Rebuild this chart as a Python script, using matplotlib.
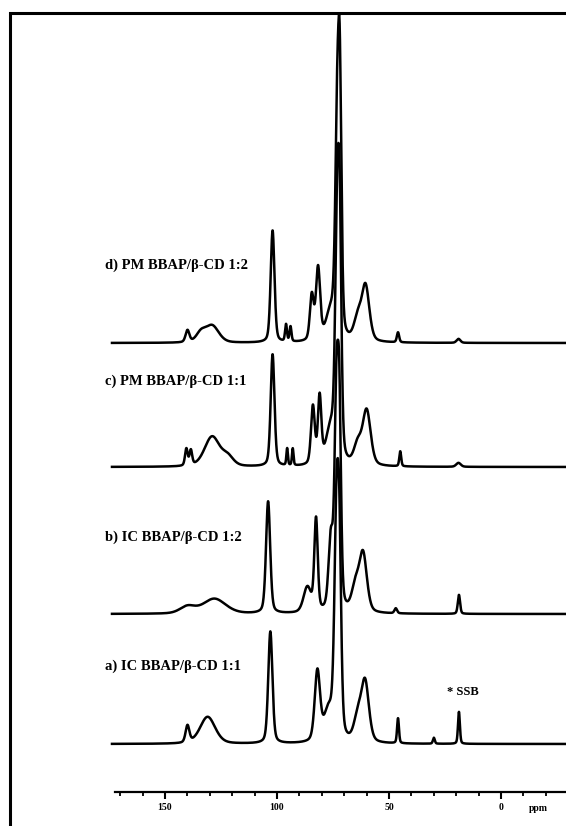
import numpy as np
import matplotlib
matplotlib.use('Agg')
from matplotlib import pyplot as plt
from matplotlib.patches import Rectangle
from matplotlib.transforms import ScaledTranslation

# spectra: peak position (ppm), height, half width (ppm), one list per trace
labels = ['d) PM BBAP/β-CD 1:2', 'c) PM BBAP/β-CD 1:1',
          'b) IC BBAP/β-CD 1:2', 'a) IC BBAP/β-CD 1:1']
offsets = [343, 467, 614, 744]

d_pos = [140.0, 134.0, 129.0, 102.0, 96.0, 94.0, 84.5, 81.7, 76.0, 73.2,
         72.0, 64.0, 60.5, 46.0, 19.0]
d_hgt = [12, 9, 17, 112, 17, 15, 45, 72, 28, 185, 235, 22, 55, 10, 4]
d_wid = [1.0, 2.5, 3.5, 1.0, 0.5, 0.5, 1.0, 1.1, 2.5, 1.0, 0.9, 2.0, 2.0,
         0.6, 1.0]

c_pos = [140.5, 138.5, 129.0, 122.0, 102.0, 95.5, 93.0, 84.0, 81.0, 76.0,
         73.2, 72.0, 64.0, 60.0, 45.0, 19.0]
c_hgt = [17, 15, 30, 9, 112, 17, 17, 58, 66, 35, 220, 200, 20, 55, 15, 4]
c_wid = [0.7, 0.7, 4.0, 3.0, 1.0, 0.4, 0.4, 1.0, 0.9, 2.5, 1.0, 0.9, 2.0,
         2.1, 0.5, 1.2]

b_pos = [140.0, 128.0, 104.0, 86.5, 82.6, 76.0, 73.5, 72.2, 65.0, 61.6,
         47.0, 18.8]
b_hgt = [7, 15, 112, 25, 92, 70, 200, 180, 25, 58, 5, 19]
b_wid = [4.0, 6.0, 1.1, 2.0, 0.9, 1.2, 1.0, 0.9, 2.0, 2.0, 0.7, 0.6]

a_pos = [140.0, 131.0, 103.0, 82.0, 77.0, 73.5, 72.2, 64.0, 60.7, 46.0,
         30.0, 18.8]
a_hgt = [17, 27, 112, 70, 30, 200, 170, 24, 60, 25, 6, 32]
a_wid = [1.0, 4.0, 1.1, 1.4, 2.5, 1.1, 1.0, 2.0, 2.0, 0.5, 0.5, 0.5]

peaks = [(d_pos, d_hgt, d_wid), (c_pos, c_hgt, c_wid),
         (b_pos, b_hgt, b_wid), (a_pos, a_hgt, a_wid)]

major_ticks = [150, 100, 50, 0]
minor_ticks = [170, 160, 140, 130, 120, 110, 90, 80, 70, 60, 40, 30, 20,
               10, -10, -20]


def spectrum(ppm, pos, hgt, wid, eta=0.35):
    # pseudo-Voigt line shapes, w is the half width at half maximum
    y = np.zeros_like(ppm)
    for p, h, w in zip(pos, hgt, wid):
        x = (ppm - p) / w
        y += h * (eta / (1 + x ** 2) + (1 - eta) * np.exp(-np.log(2) * x ** 2))
    return y


def main():
    fig = plt.figure(figsize=(5.66, 8.26), dpi=100)
    ax = fig.add_axes([0, 0, 1, 1])
    ax.set_xlim(223.7, -29.0)
    ax.set_ylim(826, 0)
    ax.axis('off')

    ppm = np.linspace(173.7, -29.0, 4000)
    for (pos, hgt, wid), off in zip(peaks, offsets):
        ax.plot(ppm, off - spectrum(ppm, pos, hgt, wid), color='black',
                lw=1.8, solid_joinstyle='round')

    label_y = [265, 381, 537, 666]
    for lab, ly in zip(labels, label_y):
        ax.text(176.8, ly, lab, fontsize=10.5, fontweight='bold',
                family='Liberation Serif', va='center', ha='left')
    ax.text(24.0, 692, '* SSB', fontsize=9, fontweight='bold',
            family='Liberation Serif', va='center', ha='left')

    # ppm scale
    sc = fig.add_axes([115 / 566, 34 / 826, 1 - 115 / 566, 0.001])
    sc.set_xlim(172.3, -29.0)
    sc.set_ylim(0, 1)
    for s in ['top', 'left', 'right']:
        sc.spines[s].set_visible(False)
    sc.spines['bottom'].set_linewidth(1.6)
    sc.set_yticks([])
    sc.set_xticks(major_ticks)
    sc.set_xticks(minor_ticks, minor=True)
    sc.set_xticklabels([str(t) for t in major_ticks], fontsize=7,
                       fontweight='bold', family='Liberation Serif')
    sc.tick_params(axis='x', which='major', length=5, width=1.5, pad=3)
    sc.tick_params(axis='x', which='minor', length=3, width=1.3)
    sc.text(-16.5, 0, 'ppm', fontsize=7, fontweight='bold',
            family='Liberation Serif', ha='center', va='top',
            transform=sc.transData + ScaledTranslation(
                0, -8.5 / 72, fig.dpi_scale_trans))

    # frame around the figure (open to the right and bottom)
    fig.add_artist(Rectangle((10 / 566, -0.1), 1.2, 1.1 - 13 / 826,
                             transform=fig.transFigure, fill=False,
                             lw=2.2, ec='black'))

    fig.savefig('out.png', dpi=100)


if __name__ == '__main__':
    main()
